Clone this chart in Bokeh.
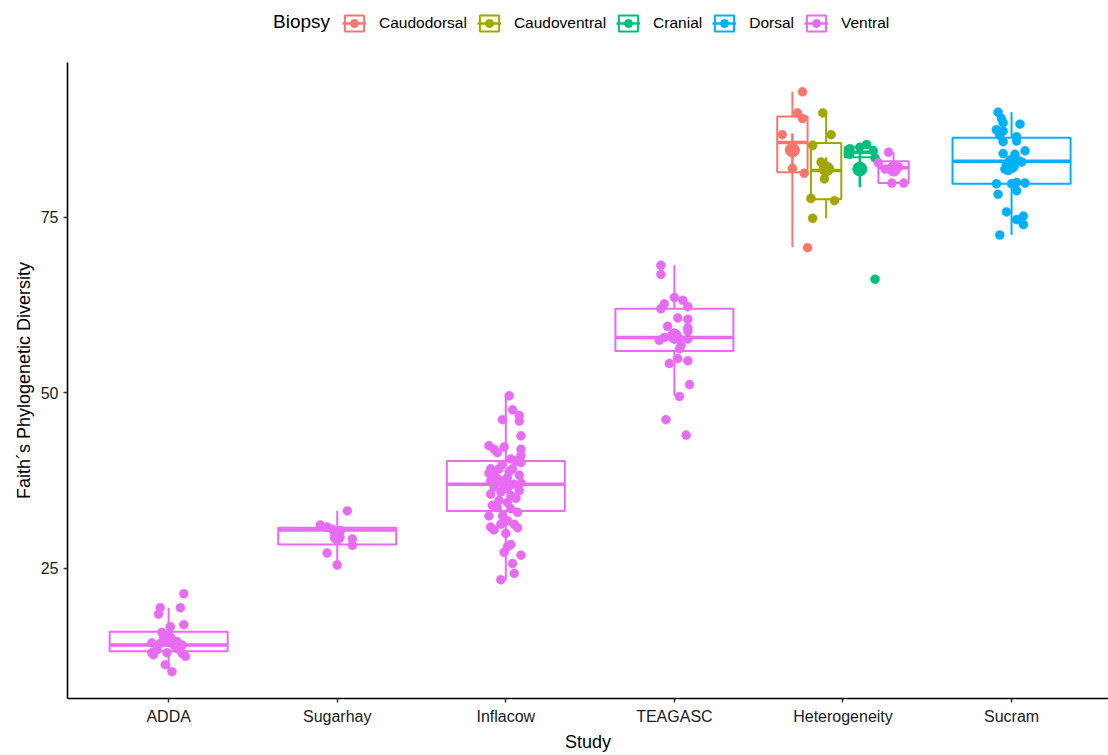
import numpy as np
from bokeh.plotting import figure
from bokeh.layouts import column
from bokeh.models import ColumnDataSource, FixedTicker, Legend, LegendItem, Range1d
from bokeh.embed import file_html
from bokeh.resources import INLINE

studies = ["ADDA", "Sugarhay", "Inflacow", "TEAGASC", "Heterogeneity", "Sucram"]
biopsies = ["Caudodorsal", "Caudoventral", "Cranial", "Dorsal", "Ventral"]
palette = ["#F8766D", "#A3A500", "#00BF7D", "#00B0F6", "#E76BF3"]

# box groups
grp_study = ["ADDA", "Sugarhay", "Inflacow", "TEAGASC", "Heterogeneity", "Heterogeneity",
             "Heterogeneity", "Heterogeneity", "Sucram"]
grp_biopsy = ["Ventral", "Ventral", "Ventral", "Ventral", "Caudodorsal", "Caudoventral",
              "Cranial", "Ventral", "Dorsal"]
grp_q1 = [13.2, 28.4, 33.2, 56.0, 81.45, 77.6, 83.6, 79.9, 79.8]
grp_med = [14.1, 30.5, 37.0, 57.9, 85.7, 81.7, 84.3, 82.1, 83.0]
grp_q3 = [16.0, 30.8, 40.3, 62.0, 89.4, 85.6, 85.0, 83.0, 86.35]
grp_lo = [10.3, 25.4, 23.3, 49.6, 70.8, 74.9, 83.5, 79.9, 72.5]
grp_hi = [19.4, 33.2, 49.6, 68.2, 92.9, 89.9, 85.4, 84.3, 90.0]
grp_mean = [14.9, 29.5, 36.8, 58.1, 84.6, 81.9, 81.9, 81.9, 82.4]
grp_se = [0.5, 0.7, 0.8, 1.1, 2.4, 1.65, 2.6, 0.6, 0.8]

# individual samples: values and horizontal jitter (category units)
adda_vals = [21.4, 19.4, 19.4, 18.5, 17.0, 16.7, 15.9, 15.2, 15.2, 14.4, 14.3, 14.1, 14.1,
             13.0, 13.0, 12.9, 12.7, 11.3, 10.3, 15.5, 14.8, 13.6, 13.4, 14.6, 12.5]
adda_jit = [0.09, -0.05, 0.07, -0.06, 0.09, 0.01, -0.04, -0.03, 0.01, -0.10, -0.05, 0.03, 0.08,
            -0.10, -0.01, 0.08, -0.09, -0.02, 0.02, 0.0, -0.02, 0.05, -0.07, 0.05, 0.10]
sugar_vals = [33.2, 31.2, 30.9, 29.5, 29.2, 28.3, 27.2, 25.5, 30.6, 30.4]
sugar_jit = [0.06, -0.10, -0.06, 0.0, 0.09, 0.09, -0.06, 0.0, -0.03, 0.02]
infla_vals = [49.6, 47.6, 46.8, 46.0, 46.2, 43.9, 42.5, 42.0, 42.3, 42.0, 41.1, 40.6, 40.1,
              39.2, 39.2, 39.2, 38.5, 38.3, 38.0, 37.5, 37.5, 37.0, 36.6, 36.4, 36.1, 35.6,
              35.4, 34.7, 34.4, 33.7, 33.5, 32.5, 32.5, 31.8, 31.3, 31.3, 30.9, 30.5, 30.8,
              30.0, 28.4, 28.1, 27.3, 26.9, 25.7, 24.3, 23.4, 39.8, 38.8, 37.8, 36.9, 35.9,
              35.0, 34.0, 33.0, 41.5, 40.3, 38.6, 37.2]
infla_jit = [0.02, 0.04, 0.08, 0.08, -0.02, 0.09, -0.10, -0.07, -0.01, 0.09, 0.09, 0.03, 0.09,
             -0.09, -0.04, 0.04, -0.07, 0.08, 0.01, -0.09, -0.03, 0.05, -0.07, -0.01, 0.08, -0.09,
             0.03, -0.04, 0.01, -0.05, 0.03, -0.10, -0.02, 0.01, -0.03, 0.05, -0.09, -0.07, 0.07,
             0.0, 0.03, 0.01, -0.01, 0.09, 0.04, 0.05, -0.03, -0.02, 0.02, -0.05, 0.02, -0.03,
             0.06, -0.08, 0.07, -0.05, 0.06, -0.10, 0.09]
teag_vals = [68.2, 66.9, 63.6, 63.2, 62.7, 62.3, 62.0, 60.7, 60.5, 59.5, 59.3, 58.8, 57.9,
             58.2, 57.5, 57.7, 57.7, 56.8, 56.3, 54.9, 54.2, 54.6, 51.2, 49.5, 46.2, 44.0]
teag_jit = [-0.08, -0.08, 0.0, 0.05, -0.06, 0.08, -0.08, 0.02, 0.08, -0.04, 0.08, 0.08, -0.06,
            0.0, -0.09, 0.03, 0.08, 0.04, 0.03, 0.02, -0.03, 0.08, 0.09, 0.03, -0.05, 0.07]
cdors_vals = [92.9, 89.9, 89.1, 86.8, 82.0, 81.3, 70.7]
cdors_jit = [0.06, 0.03, 0.06, -0.06, 0.0, 0.07, 0.09]
cvent_vals = [89.9, 86.8, 85.3, 82.9, 82.4, 80.5, 77.7, 77.4, 74.9, 82.0]
cvent_jit = [-0.02, 0.03, -0.08, -0.03, -0.01, -0.01, -0.09, 0.05, -0.08, 0.02]
cran_vals = [84.8, 85.0, 85.4, 84.5, 84.0, 83.5, 66.2]
cran_jit = [-0.06, 0.0, 0.04, 0.08, -0.06, 0.09, 0.09]
hvent_vals = [84.3, 82.8, 81.9, 82.1, 82.2, 79.9, 79.9]
hvent_jit = [-0.03, -0.09, -0.05, 0.0, 0.03, -0.01, 0.06]
sucram_vals = [90.0, 89.1, 88.5, 88.3, 87.5, 87.3, 86.7, 86.5, 85.8, 85.9, 84.5, 84.1, 84.0,
               83.2, 83.1, 82.9, 82.6, 82.4, 81.9, 81.7, 79.8, 79.8, 80.0, 79.9, 78.3, 78.8,
               75.8, 75.2, 74.7, 74.0, 72.5]
sucram_jit = [-0.08, -0.06, -0.05, 0.05, -0.09, -0.05, -0.07, 0.03, -0.05, 0.03, 0.08, -0.05, 0.02,
              -0.01, 0.04, 0.06, -0.03, 0.01, -0.04, -0.02, -0.09, 0.0, 0.03, 0.08, -0.08, 0.03,
              -0.03, 0.07, 0.03, 0.07, -0.07]

grp_points = [(adda_vals, adda_jit), (sugar_vals, sugar_jit), (infla_vals, infla_jit),
              (teag_vals, teag_jit), (cdors_vals, cdors_jit), (cvent_vals, cvent_jit),
              (cran_vals, cran_jit), (hvent_vals, hvent_jit), (sucram_vals, sucram_jit)]

# dodge layout (ggplot-like)
n_in_study = {s: grp_study.count(s) for s in studies}
seen = {s: 0 for s in studies}
grp_x, grp_w = [], []
for s in grp_study:
    n = n_in_study[s]
    i = seen[s]
    seen[s] += 1
    base = studies.index(s) + 1
    if n == 1:
        grp_x.append(base)
        grp_w.append(0.7)
    else:
        slot = 0.8 / n
        grp_x.append(base + (i - (n - 1) / 2) * slot)
        grp_w.append(slot * 0.9)

TOP_H = 62
# ---------------- main panel ----------------
p = figure(width=1108, height=755 - TOP_H, output_backend="svg", toolbar_location=None,
           x_range=Range1d(0.4, 6.575), y_range=Range1d(6.48, 97.08),
           min_border_left=67, min_border_right=0, min_border_top=0, min_border_bottom=57)
p.outline_line_color = None
p.grid.visible = False
p.background_fill_color = "white"

# legend strip (its own small plot above the panel; ranges keep the proxies off-view)
lg = figure(width=1108, height=TOP_H, output_backend="svg", toolbar_location=None,
            x_axis_location=None, y_axis_location=None, min_border=0,
            x_range=Range1d(-10, -9), y_range=Range1d(-10, -9))
lg.outline_line_color = None
lg.grid.visible = False

items = []
title_r = None
for b, col in zip(biopsies, palette):
    idx = [k for k, bb in enumerate(grp_biopsy) if bb == b]
    if not idx:
        continue
    x = [grp_x[k] for k in idx]
    w = [grp_w[k] for k in idx]
    box = ColumnDataSource(dict(
        left=[xi - wi / 2 for xi, wi in zip(x, w)], right=[xi + wi / 2 for xi, wi in zip(x, w)],
        x=x, q1=[grp_q1[k] for k in idx], med=[grp_med[k] for k in idx],
        q3=[grp_q3[k] for k in idx], lo=[grp_lo[k] for k in idx], hi=[grp_hi[k] for k in idx],
        mean=[grp_mean[k] for k in idx],
        mlo=[grp_mean[k] - grp_se[k] for k in idx], mhi=[grp_mean[k] + grp_se[k] for k in idx]))
    p.segment(x0="x", x1="x", y0="q3", y1="hi", source=box, line_color=col, line_width=2)
    p.segment(x0="x", x1="x", y0="q1", y1="lo", source=box, line_color=col, line_width=2)
    p.quad(left="left", right="right", bottom="q1", top="q3", source=box,
           fill_color="white", line_color=col, line_width=2)
    p.segment(x0="left", x1="right", y0="med", y1="med", source=box,
              line_color=col, line_width=3.5)
    px, py = [], []
    for k in idx:
        vals, jit = grp_points[k]
        px += [grp_x[k] + j for j in jit]
        py += list(vals)
    pts = ColumnDataSource(dict(x=px, y=py))
    p.scatter("x", "y", source=pts, size=9, fill_color=col, line_color=col, line_width=0.5)
    p.segment(x0="x", x1="x", y0="mlo", y1="mhi", source=box, line_color=col, line_width=2.5)
    p.scatter("x", "mean", source=box, size=14, fill_color=col, line_color=col)

    # legend key proxies (same data, drawn off-view in the strip)
    r1 = lg.quad(left="left", right="right", bottom="q1", top="q3", source=box,
                 fill_color="white", line_color=col, line_width=2)
    r2 = lg.segment(x0="left", x1="right", y0="med", y1="med", source=box,
                    line_color=col, line_width=2.5)
    r3 = lg.scatter("x", "mean", source=box, size=12, fill_color=col, line_color=col)
    items.append(LegendItem(label=b, renderers=[r1, r2, r3]))
    if title_r is None:
        title_r = lg.scatter("x", "mean", source=box, size=0, fill_alpha=0, line_alpha=0)

p.xaxis.ticker = FixedTicker(ticks=list(range(1, len(studies) + 1)))
p.xaxis.major_label_overrides = {i + 1: s for i, s in enumerate(studies)}
p.yaxis.ticker = FixedTicker(ticks=[25, 50, 75])
p.xaxis.axis_label = "Study"
p.yaxis.axis_label = "Faith\u00b4s Phylogenetic Diversity"
for ax in (p.xaxis, p.yaxis):
    ax.axis_line_color = "black"
    ax.axis_line_width = 1.6
    ax.major_tick_line_color = "#333333"
    ax.major_tick_line_width = 1.5
    ax.major_tick_in = 0
    ax.major_tick_out = 4
    ax.minor_tick_line_color = None
    ax.major_label_text_font = "Liberation Sans"
    ax.major_label_text_font_size = "16px"
    ax.major_label_text_color = "#1a1a1a"
    ax.major_label_standoff = 5
    ax.axis_label_text_font = "Liberation Sans"
    ax.axis_label_text_font_size = "18px"
    ax.axis_label_text_font_style = "normal"
    ax.axis_label_text_color = "black"
    ax.axis_label_standoff = 4

common = dict(orientation="horizontal", border_line_color=None, background_fill_alpha=0,
              glyph_height=20, padding=2, margin=0, label_text_font="Liberation Sans",
              label_text_color="black")
legend = Legend(items=items, location=(275, 29), glyph_width=24, label_standoff=13,
                spacing=10, label_text_font_size="15.5px", **common)
lg.add_layout(legend, "center")
title_legend = Legend(items=[LegendItem(label="Biopsy", renderers=[title_r])],
                      location=(206, 29), glyph_width=0, label_standoff=0,
                      label_text_font_size="19px", **common)
lg.add_layout(title_legend, "center")

layout = column(lg, p, spacing=0)
open("out.html", "w").write(file_html(layout, INLINE))
